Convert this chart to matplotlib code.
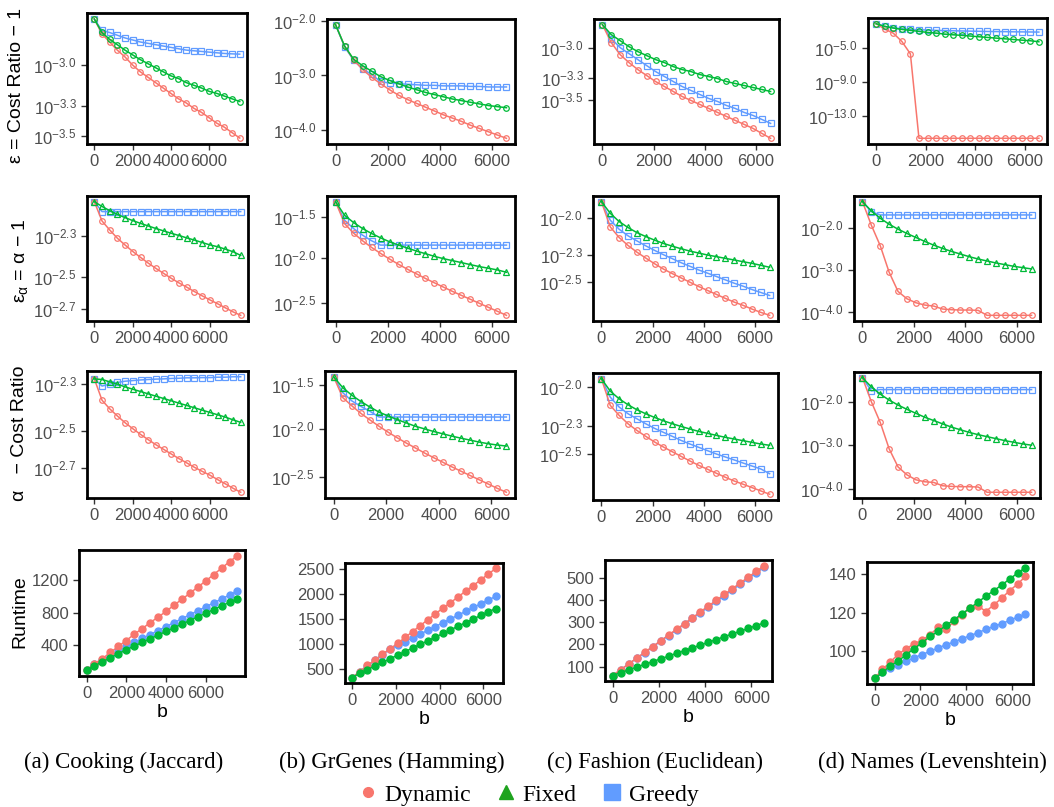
import matplotlib
matplotlib.use('Agg')
import matplotlib.pyplot as plt
import numpy as np
from matplotlib.lines import Line2D
from matplotlib.ticker import FixedLocator, FuncFormatter

plt.rcParams['font.family'] = ['Liberation Sans', 'DejaVu Sans']
plt.rcParams['mathtext.fontset'] = 'custom'
plt.rcParams['mathtext.rm'] = 'Liberation Sans'
plt.rcParams['mathtext.it'] = 'Liberation Sans:italic'

# x values (budget b)
b_cooking = [0, 400, 800, 1200, 1600, 2000, 2400, 2800, 3200, 3600, 4000,
             4400, 4800, 5200, 5600, 6000, 6400, 6800, 7200, 7600]
b_other = [0, 346, 692, 1038, 1384, 1730, 2076, 2422, 2768, 3114, 3460,
           3806, 4152, 4498, 4844, 5190, 5536, 5882, 6228, 6574]

methods = ['Dynamic', 'Fixed', 'Greedy']
colors = {'Dynamic': '#F8766D', 'Fixed': '#00BA38', 'Greedy': '#619CFF'}

# row 1: epsilon = cost ratio - 1, stored as log10 values
eps_cooking = {
    'Dynamic': [-2.66, -2.77, -2.83, -2.89, -2.94, -3.00, -3.05, -3.09, -3.13, -3.17, -3.21, -3.25, -3.28, -3.32, -3.35, -3.39, -3.43, -3.46, -3.50, -3.54],
    'Fixed': [-2.66, -2.76, -2.81, -2.85, -2.89, -2.925, -2.96, -2.99, -3.02, -3.05, -3.08, -3.10, -3.13, -3.15, -3.17, -3.195, -3.21, -3.23, -3.25, -3.27],
    'Greedy': [-2.66, -2.745, -2.76, -2.78, -2.80, -2.815, -2.83, -2.84, -2.85, -2.86, -2.87, -2.88, -2.89, -2.895, -2.90, -2.905, -2.91, -2.915, -2.918, -2.92],
}
eps_grgenes = {
    'Dynamic': [-2.07, -2.46, -2.71, -2.89, -3.03, -3.15, -3.26, -3.36, -3.44, -3.51, -3.58, -3.65, -3.72, -3.78, -3.84, -3.91, -3.97, -4.03, -4.09, -4.15],
    'Fixed': [-2.07, -2.46, -2.70, -2.82, -2.92, -3.02, -3.09, -3.15, -3.21, -3.26, -3.31, -3.35, -3.39, -3.43, -3.46, -3.49, -3.52, -3.55, -3.57, -3.59],
    'Greedy': [-2.07, -2.47, -2.72, -2.88, -2.98, -3.11, -3.14, -3.15, -3.16, -3.17, -3.18, -3.18, -3.19, -3.19, -3.19, -3.20, -3.20, -3.21, -3.21, -3.21],
}
eps_fashion = {
    'Dynamic': [-2.77, -2.95, -3.07, -3.15, -3.22, -3.28, -3.34, -3.39, -3.44, -3.49, -3.53, -3.57, -3.61, -3.65, -3.69, -3.73, -3.77, -3.81, -3.86, -3.91],
    'Fixed': [-2.77, -2.87, -2.93, -2.99, -3.04, -3.08, -3.12, -3.15, -3.19, -3.22, -3.24, -3.27, -3.29, -3.31, -3.34, -3.36, -3.38, -3.40, -3.42, -3.44],
    'Greedy': [-2.77, -2.91, -3.00, -3.06, -3.12, -3.18, -3.24, -3.29, -3.34, -3.39, -3.43, -3.47, -3.51, -3.54, -3.58, -3.61, -3.65, -3.68, -3.72, -3.76],
}
eps_names = {
    'Dynamic': [-2.13, -2.76, -3.24, -4.21, -5.67, -15.59, -15.59, -15.59, -15.59, -15.59, -15.59, -15.59, -15.59, -15.59, -15.59, -15.59, -15.59, -15.59, -15.59, -15.59],
    'Fixed': [-2.13, -2.44, -2.64, -2.80, -2.91, -3.03, -3.15, -3.23, -3.35, -3.43, -3.50, -3.58, -3.66, -3.74, -3.82, -3.90, -3.98, -4.06, -4.13, -4.25],
    'Greedy': [-2.13, -2.44, -2.60, -2.72, -2.80, -2.84, -2.87, -2.91, -2.94, -2.96, -2.98, -3.00, -3.02, -3.04, -3.05, -3.06, -3.08, -3.09, -3.10, -3.11],
}

# row 2: epsilon_alpha = alpha - 1 (log10)
alpha_cooking = {
    'Dynamic': [-2.115, -2.22, -2.269, -2.314, -2.351, -2.386, -2.418, -2.449, -2.478, -2.505, -2.532, -2.557, -2.580, -2.604, -2.627, -2.649, -2.670, -2.692, -2.714, -2.733],
    'Fixed': [-2.115, -2.141, -2.164, -2.184, -2.202, -2.218, -2.233, -2.247, -2.261, -2.274, -2.287, -2.299, -2.312, -2.324, -2.337, -2.350, -2.360, -2.373, -2.387, -2.407],
    'Greedy': [-2.115, -2.169, -2.169, -2.169, -2.169, -2.169, -2.169, -2.169, -2.169, -2.169, -2.169, -2.169, -2.169, -2.169, -2.169, -2.169, -2.169, -2.169, -2.169, -2.169],
}
alpha_grgenes = {
    'Dynamic': [-1.341, -1.597, -1.709, -1.798, -1.876, -1.946, -2.012, -2.074, -2.132, -2.186, -2.240, -2.291, -2.341, -2.391, -2.438, -2.484, -2.531, -2.578, -2.624, -2.671],
    'Fixed': [-1.341, -1.50, -1.585, -1.655, -1.713, -1.764, -1.810, -1.849, -1.884, -1.919, -1.950, -1.981, -2.008, -2.031, -2.054, -2.078, -2.101, -2.12, -2.14, -2.167],
    'Greedy': [-1.341, -1.558, -1.655, -1.733, -1.798, -1.849, -1.849, -1.849, -1.849, -1.849, -1.849, -1.849, -1.849, -1.849, -1.849, -1.849, -1.849, -1.849, -1.849, -1.849],
}
alpha_fashion = {
    'Dynamic': [-1.871, -2.075, -2.161, -2.225, -2.279, -2.327, -2.373, -2.416, -2.453, -2.488, -2.523, -2.558, -2.590, -2.622, -2.654, -2.684, -2.710, -2.740, -2.767, -2.791],
    'Fixed': [-1.871, -1.965, -2.032, -2.080, -2.121, -2.153, -2.182, -2.209, -2.231, -2.252, -2.271, -2.287, -2.303, -2.316, -2.330, -2.343, -2.357, -2.370, -2.386, -2.402],
    'Greedy': [-1.871, -2.021, -2.094, -2.147, -2.188, -2.228, -2.265, -2.300, -2.332, -2.365, -2.394, -2.424, -2.450, -2.477, -2.504, -2.531, -2.555, -2.582, -2.606, -2.630],
}
alpha_names = {
    'Dynamic': [-1.388, -1.945, -2.431, -3.059, -3.514, -3.686, -3.780, -3.835, -3.859, -3.929, -3.945, -3.953, -3.953, -3.961, -4.078, -4.078, -4.078, -4.078, -4.078, -4.078],
    'Fixed': [-1.388, -1.608, -1.780, -1.922, -2.039, -2.141, -2.235, -2.329, -2.416, -2.494, -2.565, -2.627, -2.690, -2.745, -2.792, -2.839, -2.878, -2.918, -2.949, -2.980],
    'Greedy': [-1.388, -1.624, -1.702, -1.702, -1.702, -1.702, -1.702, -1.702, -1.702, -1.702, -1.702, -1.702, -1.702, -1.702, -1.702, -1.702, -1.702, -1.702, -1.702, -1.702],
}

# row 3: alpha - cost ratio (log10)
cratio_cooking = {
    'Dynamic': [-2.276, -2.377, -2.418, -2.452, -2.484, -2.512, -2.539, -2.564, -2.588, -2.610, -2.632, -2.654, -2.674, -2.695, -2.714, -2.732, -2.753, -2.773, -2.794, -2.813],
    'Fixed': [-2.276, -2.279, -2.290, -2.301, -2.314, -2.325, -2.336, -2.347, -2.358, -2.369, -2.380, -2.391, -2.402, -2.413, -2.424, -2.435, -2.446, -2.457, -2.470, -2.482],
    'Greedy': [-2.276, -2.310, -2.301, -2.293, -2.287, -2.284, -2.281, -2.279, -2.277, -2.276, -2.274, -2.273, -2.271, -2.271, -2.270, -2.270, -2.268, -2.268, -2.266, -2.266],
}
cratio_grgenes = {
    'Dynamic': [-1.438, -1.662, -1.751, -1.833, -1.904, -1.972, -2.036, -2.096, -2.153, -2.206, -2.260, -2.310, -2.359, -2.409, -2.456, -2.502, -2.548, -2.594, -2.641, -2.683],
    'Fixed': [-1.438, -1.555, -1.637, -1.705, -1.765, -1.819, -1.861, -1.900, -1.936, -1.972, -2.0, -2.028, -2.053, -2.078, -2.1, -2.121, -2.142, -2.160, -2.174, -2.185],
    'Greedy': [-1.438, -1.609, -1.698, -1.758, -1.811, -1.872, -1.872, -1.872, -1.872, -1.872, -1.872, -1.872, -1.872, -1.872, -1.872, -1.872, -1.872, -1.872, -1.872, -1.872],
}
cratio_fashion = {
    'Dynamic': [-1.935, -2.142, -2.220, -2.285, -2.337, -2.383, -2.427, -2.466, -2.503, -2.539, -2.575, -2.609, -2.640, -2.671, -2.702, -2.731, -2.756, -2.782, -2.808, -2.834],
    'Fixed': [-1.935, -2.031, -2.091, -2.137, -2.176, -2.207, -2.236, -2.262, -2.285, -2.306, -2.326, -2.345, -2.360, -2.376, -2.391, -2.404, -2.417, -2.430, -2.443, -2.453],
    'Greedy': [-1.935, -2.078, -2.155, -2.207, -2.246, -2.285, -2.321, -2.352, -2.383, -2.415, -2.443, -2.469, -2.495, -2.521, -2.544, -2.567, -2.591, -2.614, -2.637, -2.674],
}
cratio_names = {
    'Dynamic': [-1.449, -2.0, -2.475, -3.079, -3.494, -3.675, -3.789, -3.834, -3.849, -3.925, -3.940, -3.947, -3.947, -3.955, -4.075, -4.075, -4.075, -4.075, -4.075, -4.075],
    'Fixed': [-1.449, -1.660, -1.826, -1.962, -2.075, -2.174, -2.264, -2.355, -2.430, -2.506, -2.581, -2.642, -2.702, -2.755, -2.800, -2.845, -2.891, -2.928, -2.966, -2.996],
    'Greedy': [-1.449, -1.751, -1.721, -1.721, -1.721, -1.721, -1.721, -1.721, -1.721, -1.721, -1.721, -1.721, -1.721, -1.721, -1.721, -1.721, -1.721, -1.721, -1.721, -1.721],
}

# row 4: runtime
rt_cooking = {
    'Dynamic': [95, 177, 238, 315, 388, 461, 538, 607, 680, 749, 818, 895, 968, 1041, 1119, 1192, 1273, 1350, 1431, 1504],
    'Fixed': [95, 150, 200, 250, 300, 347, 392, 437, 482, 527, 572, 617, 662, 707, 752, 797, 842, 887, 932, 977],
    'Greedy': [95, 170, 220, 275, 330, 388, 437, 486, 534, 583, 632, 680, 729, 778, 826, 875, 924, 972, 1021, 1070],
}
rt_grgenes = {
    'Dynamic': [336, 454, 579, 684, 802, 907, 1018, 1136, 1254, 1372, 1490, 1608, 1720, 1831, 1943, 2061, 2172, 2284, 2402, 2513],
    'Fixed': [336, 421, 493, 566, 638, 710, 782, 854, 926, 998, 1070, 1143, 1215, 1287, 1359, 1431, 1503, 1576, 1648, 1713],
    'Greedy': [336, 454, 566, 677, 795, 900, 979, 1051, 1130, 1202, 1281, 1353, 1431, 1504, 1583, 1655, 1734, 1806, 1884, 1956],
}
rt_fashion = {
    'Dynamic': [60, 86, 112, 138, 164, 190, 216, 242, 268, 294, 320, 347, 373, 399, 425, 451, 477, 503, 529, 555],
    'Fixed': [60, 73, 85, 98, 110, 122, 135, 147, 160, 172, 185, 197, 210, 222, 235, 247, 260, 272, 285, 297],
    'Greedy': [60, 85, 111, 137, 162, 188, 214, 240, 265, 291, 317, 343, 368, 394, 420, 446, 471, 497, 523, 548],
}
rt_names = {
    'Dynamic': [85.9, 90.6, 94.5, 98.5, 101.4, 103.9, 105.8, 108.6, 112.4, 111.3, 115.5, 118.9, 122.3, 123.7, 120.6, 124.0, 127.5, 131.4, 134.8, 138.8],
    'Fixed': [85.9, 89.0, 92.4, 95.0, 98.3, 101.4, 104.5, 107.7, 110.3, 113.4, 116.3, 119.4, 122.3, 125.4, 128.5, 131.4, 134.3, 137.4, 140.5, 143.4],
    'Greedy': [85.9, 89.0, 91.4, 93.1, 94.8, 96.7, 98.3, 100.0, 101.7, 103.4, 104.8, 106.5, 108.0, 109.6, 111.3, 112.9, 114.3, 116.0, 117.7, 119.1],
}

# tick values on the log axes
ticks_eps = [[1e-3, 5e-4, 3e-4], [1e-2, 1e-3, 1e-4], [1e-3, 5e-4, 3e-4], [1e-5, 1e-9, 1e-13]]
ticks_alpha = [[5e-3, 3e-3, 2e-3], [3e-2, 1e-2, 3e-3], [1e-2, 5e-3, 3e-3], [1e-2, 1e-3, 1e-4]]
ticks_rt = [[400, 800, 1200], [500, 1000, 1500, 2000, 2500], [100, 200, 300, 400, 500], [100, 120, 140]]

captions = ['(a) Cooking (Jaccard)', '(b) GrGenes (Hamming)',
            '(c) Fashion (Euclidean)', '(d) Names (Levenshtein)']

W, H = 1054, 807
fig = plt.figure(figsize=(W / 100, H / 100), dpi=100)


def add_box(left, top, right, bottom):
    return fig.add_axes([left / W, 1 - bottom / H, (right - left) / W, (bottom - top) / H])


def style(ax):
    for sp in ax.spines.values():
        sp.set_linewidth(2.0)
        sp.set_color('black')
    ax.tick_params(labelsize=12, labelcolor='#4D4D4D', color='#333333',
                   length=4, width=1)
    ax.tick_params(axis='y', which='minor', left=False)
    ax.set_xticks([0, 2000, 4000, 6000])


def log_fmt(v, pos):
    return '$10^{%.1f}$' % np.log10(v)


def error_panel(box, xs, data, ticks, fixed_marker):
    ax = add_box(*box)
    marks = {'Dynamic': 'o', 'Fixed': fixed_marker, 'Greedy': 's'}
    for m in ['Greedy', 'Dynamic', 'Fixed']:
        ax.plot(xs, np.power(10.0, data[m]), color=colors[m], lw=1.1,
                marker=marks[m], ms=4.0, mfc='none', mew=0.9)
    ax.set_yscale('log')
    ax.yaxis.set_major_locator(FixedLocator(ticks))
    ax.yaxis.set_major_formatter(FuncFormatter(log_fmt))
    ax.yaxis.set_minor_locator(FixedLocator([]))
    style(ax)
    return ax


def runtime_panel(box, xs, data, ticks):
    ax = add_box(*box)
    for m in ['Greedy', 'Dynamic', 'Fixed']:
        ax.plot(xs, data[m], color=colors[m], lw=1.1, marker='o', ms=5)
    ax.set_yticks(ticks)
    style(ax)
    ax.set_xlabel('b', fontsize=14, labelpad=2)
    return ax


xs_all = [b_cooking, b_other, b_other, b_other]

boxes_eps = [(87, 13, 247, 144), (327, 19, 515, 144), (594, 19, 779, 144), (868, 18, 1047, 144)]
boxes_alpha = [(87, 196, 248, 321), (327, 196, 515, 321), (593, 196, 778, 321), (854, 196, 1040, 321)]
boxes_cr = [(87, 371, 248, 498), (325, 371, 515, 498), (593, 373, 778, 500), (854, 372, 1040, 498)]
boxes_rt = [(79, 550, 245, 676), (345, 563, 503, 683), (605, 560, 772, 681), (867, 562, 1033, 684)]

eps_all = [eps_cooking, eps_grgenes, eps_fashion, eps_names]
alpha_all = [alpha_cooking, alpha_grgenes, alpha_fashion, alpha_names]
cr_all = [cratio_cooking, cratio_grgenes, cratio_fashion, cratio_names]
rt_all = [rt_cooking, rt_grgenes, rt_fashion, rt_names]

for i in range(4):
    error_panel(boxes_eps[i], xs_all[i], eps_all[i], ticks_eps[i], 'o')
    error_panel(boxes_alpha[i], xs_all[i], alpha_all[i], ticks_alpha[i], '^')
    error_panel(boxes_cr[i], xs_all[i], cr_all[i], ticks_alpha[i], '^')
    runtime_panel(boxes_rt[i], xs_all[i], rt_all[i], ticks_rt[i])

# row labels
fig.text(17 / W, 1 - 85 / H, 'ε = Cost Ratio − 1', rotation=90, fontsize=14,
         ha='center', va='center')
fig.text(20 / W, 1 - 261 / H, r'$\mathregular{ε_α}$ = α − 1', rotation=90,
         fontsize=14, ha='center', va='center')
fig.text(20 / W, 1 - 433 / H, 'α   − Cost Ratio', rotation=90, fontsize=14,
         ha='center', va='center')
fig.text(20 / W, 1 - 612 / H, 'Runtime', rotation=90, fontsize=14,
         ha='center', va='center')

# sub-captions
cap_x = [124, 392, 655, 932]
for cx, cap in zip(cap_x, captions):
    fig.text(cx / W, 1 - 762 / H, cap, fontsize=16.5, family='Liberation Serif',
             ha='center', va='center')

handles = [Line2D([], [], ls='none', marker='o', ms=7, color=colors['Dynamic']),
           Line2D([], [], ls='none', marker='^', ms=10, color='#1FA31F'),
           Line2D([], [], ls='none', marker='s', ms=11, color=colors['Greedy'])]
fig.legend(handles, methods, loc='center', bbox_to_anchor=(0.5, 1 - 795 / H),
           ncol=3, frameon=False, prop={'family': 'Liberation Serif', 'size': 17},
           handletextpad=0.2, columnspacing=1.0, handlelength=1.0)

fig.savefig('out.png', dpi=100)
